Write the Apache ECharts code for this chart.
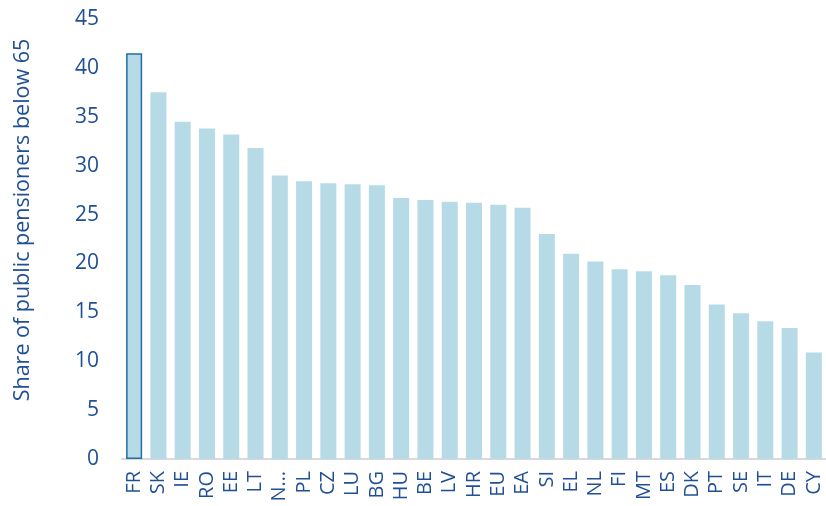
<!DOCTYPE html>
<html>
<head>
<meta charset="utf-8">
<script src="https://cdn.jsdelivr.net/npm/echarts@6/dist/echarts.min.js"></script>
<style>html,body{margin:0;padding:0;background:#fff}#c{width:826px;height:506px}</style>
</head>
<body>
<div id="c"></div>
<script>
const categories = ["FR","SK","IE","RO","EE","LT","N…","PL","CZ","LU","BG","HU","BE","LV","HR","EU","EA","SI","EL","NL","FI","MT","ES","DK","PT","SE","IT","DE","CY"];
const values = [41.5,37.5,34.5,33.8,33.2,31.8,29.0,28.4,28.2,28.1,28.0,26.7,26.5,26.3,26.2,26.0,25.7,23.0,21.0,20.2,19.4,19.2,18.8,17.8,15.8,14.9,14.1,13.4,10.9];
const yAxisTitle = "Share of public pensioners below 65";
const highlighted = "FR";

const textColor = "#1f4f95";
const font = 'Open Sans';
const chart = echarts.init(document.getElementById('c'), null, {renderer:'canvas'});
chart.setOption({
  animation:false,
  grid:{left:122, right:-3, top:19, bottom:47, containLabel:false},
  xAxis:{
    type:'category', data:categories,
    axisLine:{show:true, lineStyle:{color:'#d9d9d9', width:2}},
    axisTick:{show:false},
    axisLabel:{rotate:90, interval:0, color:textColor, fontFamily:font, fontSize:20, margin:12}
  },
  yAxis:{
    type:'value', min:0, max:45, interval:5,
    splitLine:{show:false},
    axisLine:{show:false}, axisTick:{show:false},
    axisLabel:{color:textColor, fontFamily:font, fontSize:21, margin:23}
  },
  graphic:[{
    type:'text', x:23, y:220, rotation:Math.PI/2,
    style:{text:yAxisTitle, fill:textColor, font:'21.5px "Open Sans"', align:'center', verticalAlign:'middle'}
  }],
  series:[{
    type:'bar', barWidth:'66%',
    data:values.map((v,i)=>({value:v, itemStyle: categories[i]===highlighted ? {color:'#b7dbe6', borderColor:'#1f6fa8', borderWidth:1.5} : {color:'#b7dbe6'}}))
  }]
});
</script>
</body>
</html>
